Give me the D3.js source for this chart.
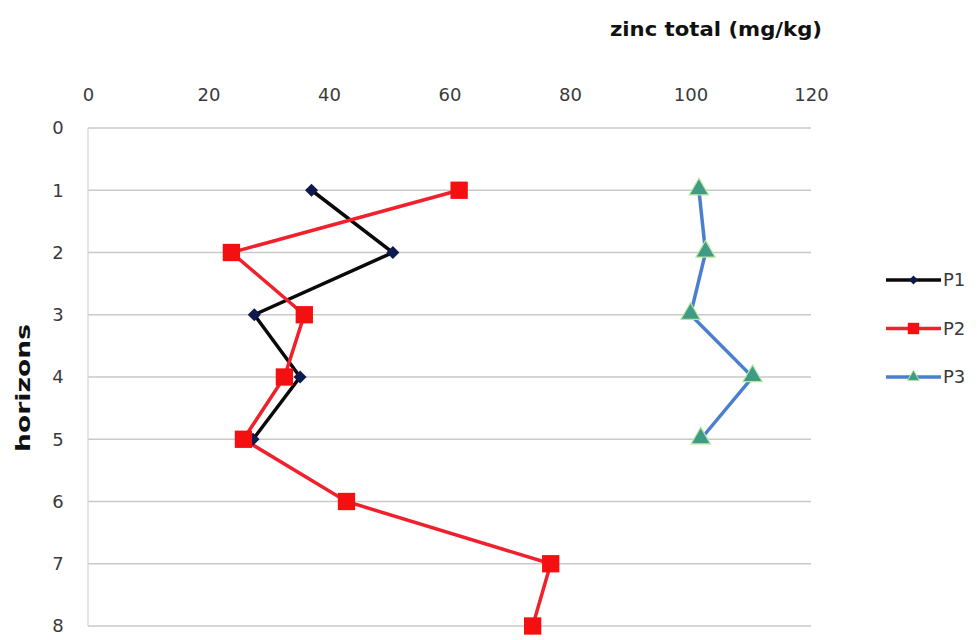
<!DOCTYPE html>
<html>
<head>
<meta charset="utf-8">
<script src="https://cdn.jsdelivr.net/npm/d3@7"></script>
<style>
  html, body { margin: 0; padding: 0; background: #fff; }
  svg { display: block; font-family: "DejaVu Sans", "Open Sans", sans-serif; }
</style>
</head>
<body>
<svg id="chart" width="980" height="640"></svg>
<script>
// Horizon depth index (vertical axis) and total zinc per profile
const horizonsP1 = [1, 2, 3, 4, 5];
const zincP1 = [37.1, 50.6, 27.6, 35.2, 27.4];

const horizonsP2 = [1, 2, 3, 4, 5, 6, 7, 8];
const zincP2 = [61.6, 23.8, 35.9, 32.6, 25.8, 42.9, 76.8, 73.8];

const horizonsP3 = [1, 2, 3, 4, 5];
const zincP3 = [101.4, 102.5, 100.0, 110.3, 101.7];

const xTicks = [0, 20, 40, 60, 80, 100, 120];
const yTicks = [0, 1, 2, 3, 4, 5, 6, 7, 8];
const seriesNames = ["P1", "P2", "P3"];

const svg = d3.select("#chart");
const margin = { left: 88, right: 169, top: 128, bottom: 14 };
const width = 980 - margin.left - margin.right;
const height = 640 - margin.top - margin.bottom;

const x = d3.scaleLinear().domain([0, 120]).range([margin.left, margin.left + width]);
const y = d3.scaleLinear().domain([0, 8]).range([margin.top, margin.top + height]);

const labelColor = "#3a3a3a";

// Horizontal gridlines
svg.append("g")
  .selectAll("line")
  .data(yTicks)
  .join("line")
  .attr("x1", x(0)).attr("x2", x(120))
  .attr("y1", d => y(d)).attr("y2", d => y(d))
  .attr("stroke", "#c9c9c9").attr("stroke-width", 1.5);

// Left axis line
svg.append("line")
  .attr("x1", x(0)).attr("x2", x(0))
  .attr("y1", y(0)).attr("y2", y(8))
  .attr("stroke", "#d4d4d4").attr("stroke-width", 1.2);

// Top value axis labels
const xAxis = d3.axisTop(x).tickValues(xTicks).tickSize(0).tickPadding(0);
const gx = svg.append("g").attr("transform", "translate(0,95)").call(xAxis);
gx.select(".domain").remove();
gx.selectAll("text")
  .attr("font-size", 18).attr("fill", labelColor)
  .attr("font-family", "'DejaVu Sans', sans-serif")
  .attr("dy", "0.36em");

// Left horizon axis labels
const yAxis = d3.axisLeft(y).tickValues(yTicks).tickSize(0).tickPadding(0);
const gy = svg.append("g").attr("transform", "translate(58,0)").call(yAxis);
gy.select(".domain").remove();
gy.selectAll("text")
  .attr("font-size", 18).attr("fill", labelColor)
  .attr("text-anchor", "middle")
  .attr("font-family", "'DejaVu Sans', sans-serif");

// Axis titles
svg.append("text")
  .attr("x", 610).attr("y", 36)
  .attr("font-size", 20).attr("font-weight", "bold").attr("fill", "#111")
  .attr("textLength", 212).attr("lengthAdjust", "spacingAndGlyphs")
  .text("zinc total (mg/kg)");

svg.append("text")
  .attr("transform", `translate(30,388) rotate(-90)`)
  .attr("text-anchor", "middle")
  .attr("font-size", 20).attr("font-weight", "bold").attr("fill", "#111")
  .attr("textLength", 128).attr("lengthAdjust", "spacingAndGlyphs")
  .text("horizons");

const line = d3.line().x(d => x(d.v)).y(d => y(d.h));
const toPts = (hs, vs) => hs.map((h, i) => ({ h, v: vs[i] }));

const p1 = toPts(horizonsP1, zincP1);
const p2 = toPts(horizonsP2, zincP2);
const p3 = toPts(horizonsP3, zincP3);

const diamond = d3.symbol().type(d3.symbolSquare).size(85);
const square = d3.symbol().type(d3.symbolSquare).size(300);
const triangle = d3.symbol().type(d3.symbolTriangle).size(160);

// P3 (blue line, teal triangles)
svg.append("path").datum(p3).attr("d", line)
  .attr("fill", "none").attr("stroke", "#4a7fd0").attr("stroke-width", 3.5);
svg.append("g").selectAll("path").data(p3).join("path")
  .attr("d", triangle)
  .attr("transform", d => `translate(${x(d.v)},${y(d.h) - 1})`)
  .attr("fill", "#3f9a86").attr("stroke", "#b8e6a0").attr("stroke-width", 1.2);

// P1 (black line, navy diamonds)
svg.append("path").datum(p1).attr("d", line)
  .attr("fill", "none").attr("stroke", "#0a0a0a").attr("stroke-width", 3.5);

// P2 (red line, red squares)
svg.append("path").datum(p2).attr("d", line)
  .attr("fill", "none").attr("stroke", "#f0202c").attr("stroke-width", 3.5);

svg.append("g").selectAll("path").data(p1).join("path")
  .attr("d", diamond)
  .attr("transform", d => `translate(${x(d.v)},${y(d.h)}) rotate(45)`)
  .attr("fill", "#0d1a4d");

svg.append("g").selectAll("path").data(p2).join("path")
  .attr("d", square)
  .attr("transform", d => `translate(${x(d.v)},${y(d.h)})`)
  .attr("fill", "#f41010");

// Legend
const legendColors = ["#0a0a0a", "#f0202c", "#4a7fd0"];
const legendSymbols = [
  { sym: d3.symbol().type(d3.symbolSquare).size(40), fill: "#0d1a4d", stroke: "none", rot: 45 },
  { sym: d3.symbol().type(d3.symbolSquare).size(130), fill: "#f41010", stroke: "none", rot: 0 },
  { sym: d3.symbol().type(d3.symbolTriangle).size(60), fill: "#3f9a86", stroke: "#b8e6a0", rot: 0 }
];
const legend = svg.append("g");
seriesNames.forEach((name, i) => {
  const ly = 280 + i * 48.5;
  legend.append("line")
    .attr("x1", 886).attr("x2", 941).attr("y1", ly).attr("y2", ly)
    .attr("stroke", legendColors[i]).attr("stroke-width", 3.5);
  legend.append("path")
    .attr("d", legendSymbols[i].sym)
    .attr("transform", `translate(913.5,${ly}) rotate(${legendSymbols[i].rot})`)
    .attr("fill", legendSymbols[i].fill)
    .attr("stroke", legendSymbols[i].stroke);
  legend.append("text")
    .attr("x", 943).attr("y", ly).attr("dy", "0.36em")
    .attr("font-size", 18).attr("fill", labelColor)
    .text(name);
});
</script>
</body>
</html>
